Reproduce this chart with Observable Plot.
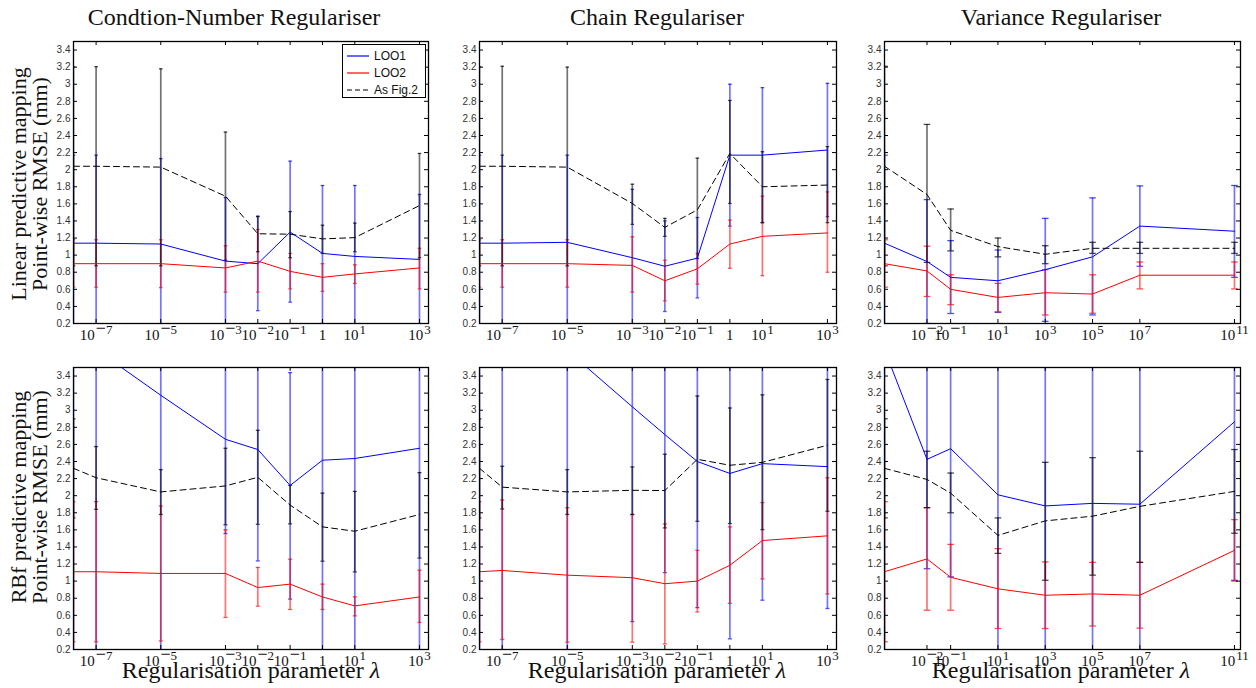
<!DOCTYPE html>
<html>
<head>
<meta charset="utf-8">
<script src="https://cdn.jsdelivr.net/npm/d3@7"></script>
<script src="https://cdn.jsdelivr.net/npm/@observablehq/plot@0.6"></script>
<style>
  html, body { margin: 0; padding: 0; background: #fff; }
  #wrap { position: relative; width: 1256px; height: 688px; overflow: hidden; background: #fff; }
  #wrap svg { position: absolute; max-width: none; }
  .serif { font-family: "Liberation Serif", "Times New Roman", serif; color: #111; position: absolute; white-space: nowrap; }
  .title { font-size: 24px; line-height: 24px; transform: translateX(-50%); }
  .xlab { font-size: 24px; line-height: 24px; transform: translateX(-50%); }
  .ylab { font-size: 22px; line-height: 21px; text-align: center; width: 320px; height: 42px; transform: translate(-50%, -50%) rotate(-90deg); }
  #legend { position: absolute; left: 342px; top: 44px; width: 82px; height: 52px; border: 1.3px solid #000; background: #fff;
            font-family: "Liberation Sans", Arial, sans-serif; font-size: 12px; color: #111; }
  #legend .row { position: absolute; left: 3px; height: 16px; display: flex; align-items: center; }
  #legend svg { position: static; margin-right: 4px; }
</style>
</head>
<body>
<div id="wrap"></div>
<script>
// ---------------- data ----------------
// λ values (first entry = un-regularised reference, drawn at the left axis limit)
const lambdaA = [2e-8, 1e-7, 1e-5, 1e-3, 1e-2, 1e-1, 1, 10, 1000];      // Condition-number & Chain
const lambdaB = [1.6e-4, 1e-2, 1e-1, 10, 1e3, 1e5, 1e7, 1e11];          // Variance
const domainA = [2e-8, 1.9e3];
const domainB = [1.6e-4, 1.8e11];

const xTicksA = [1e-7, 1e-5, 1e-3, 1e-2, 1e-1, 1, 10, 1000];
const xTickLabelsA = ["10^−7", "10^−5", "10^−3", "10^−2", "10^−1", "1", "10^1", "10^3"];
const xTicksB = [1e-2, 1e-1, 10, 1e3, 1e5, 1e7, 1e11];
const xTickLabelsB = ["10^−2", "10^−1", "10^1", "10^3", "10^5", "10^7", "10^11"];
const yTicks = [0.2, 0.4, 0.6, 0.8, 1, 1.2, 1.4, 1.6, 1.8, 2, 2.2, 2.4, 2.6, 2.8, 3, 3.2, 3.4];
const yTickLabels = ["0.2","0.4","0.6","0.8","1","1.2","1.4","1.6","1.8","2","2.2","2.4","2.6","2.8","3","3.2","3.4"];

const seriesNames = ["LOO1", "LOO2", "As Fig.2"];
const panelTitles = ["Condtion-Number Regulariser", "Chain Regulariser", "Variance Regulariser"];
const rowLabels = [["Linear predictive mapping", "Point-wise RMSE (mm)"], ["RBf predictive mapping", "Point-wise RMSE (mm)"]];

// --- Linear, condition-number
const linCN_LOO1    = [1.14, 1.14, 1.13, 0.93, 0.90, 1.27, 1.02, 0.985, 0.95];
const linCN_LOO1_lo = [0.11, 0.11, 0.13, 0.19, 0.35, 0.45, 0.20, 0.16, 0.19];
const linCN_LOO1_hi = [2.17, 2.17, 2.13, 1.675, 1.45, 2.10, 1.815, 1.815, 1.71];
const linCN_LOO2    = [0.90, 0.90, 0.90, 0.85, 0.93, 0.81, 0.74, 0.78, 0.85];
const linCN_LOO2_lo = [0.625, 0.625, 0.62, 0.567, 0.567, 0.605, 0.575, 0.668, 0.605];
const linCN_LOO2_hi = [1.18, 1.18, 1.18, 1.11, 1.30, 1.02, 0.90, 0.887, 1.08];
const linCN_Fig2    = [2.04, 2.04, 2.03, 1.69, 1.25, 1.245, 1.19, 1.205, 1.58];
const linCN_Fig2_lo = [0.875, 0.875, 0.875, 0.94, 1.04, 0.97, 1.02, 1.04, 0.97];
const linCN_Fig2_hi = [3.205, 3.205, 3.18, 2.44, 1.456, 1.51, 1.35, 1.375, 2.19];

// --- Linear, chain
const linCH_LOO1    = [1.14, 1.14, 1.15, 0.97, 0.87, 0.965, 2.17, 2.17, 2.23];
const linCH_LOO1_lo = [0.11, 0.11, 0.13, 0.17, 0.34, 0.50, 1.34, 1.38, 1.45];
const linCH_LOO1_hi = [2.17, 2.17, 2.17, 1.77, 1.40, 1.44, 3.00, 2.96, 3.01];
const linCH_LOO2    = [0.90, 0.90, 0.90, 0.88, 0.70, 0.84, 1.13, 1.22, 1.26];
const linCH_LOO2_lo = [0.625, 0.625, 0.625, 0.567, 0.465, 0.66, 0.845, 0.76, 0.80];
const linCH_LOO2_hi = [1.18, 1.18, 1.18, 1.215, 0.94, 1.02, 1.41, 1.69, 1.74];
const linCH_Fig2    = [2.04, 2.04, 2.03, 1.605, 1.325, 1.53, 2.19, 1.80, 1.82];
const linCH_Fig2_lo = [0.875, 0.875, 0.875, 1.36, 1.22, 0.96, 1.605, 1.38, 1.38];
const linCH_Fig2_hi = [3.205, 3.21, 3.20, 1.83, 1.43, 2.135, 2.81, 2.21, 2.27];

// --- Linear, variance
const linVA_LOO1    = [1.14, 0.925, 0.74, 0.70, 0.83, 0.98, 1.34, 1.28];
const linVA_LOO1_lo = [0.11, 0.20, 0.317, 0.33, 0.225, 0.30, 0.87, 0.74];
const linVA_LOO1_hi = [2.17, 1.65, 1.17, 1.06, 1.43, 1.67, 1.81, 1.815];
const linVA_LOO2    = [0.90, 0.815, 0.60, 0.505, 0.56, 0.545, 0.765, 0.765];
const linVA_LOO2_lo = [0.625, 0.516, 0.42, 0.337, 0.30, 0.32, 0.605, 0.605];
const linVA_LOO2_hi = [1.18, 1.105, 0.77, 0.67, 0.83, 0.77, 0.92, 0.92];
const linVA_Fig2    = [2.04, 1.71, 1.29, 1.10, 1.01, 1.08, 1.08, 1.08];
const linVA_Fig2_lo = [0.875, 0.915, 1.05, 0.98, 0.90, 1.02, 1.02, 1.02];
const linVA_Fig2_hi = [3.21, 2.53, 1.54, 1.20, 1.11, 1.15, 1.15, 1.15];

// --- RBF, condition-number
const rbfCN_LOO1    = [3.71, 3.71, 3.175, 2.66, 2.54, 2.12, 2.415, 2.435, 2.555];
const rbfCN_LOO1_lo = [0.10, 0.10, 0.10, 1.557, 1.237, 0.79, 0.10, 0.10, 0.10];
const rbfCN_LOO1_hi = [7.30, 7.30, 6.20, 3.76, 3.84, 3.44, 4.70, 4.80, 5.00];
const rbfCN_LOO2    = [1.11, 1.11, 1.09, 1.09, 0.925, 0.965, 0.815, 0.71, 0.815];
const rbfCN_LOO2_lo = [0.29, 0.29, 0.30, 0.575, 0.707, 0.668, 0.668, 0.594, 0.516];
const rbfCN_LOO2_hi = [1.93, 1.93, 1.88, 1.60, 1.16, 1.257, 0.965, 0.816, 1.128];
const rbfCN_Fig2    = [2.32, 2.21, 2.044, 2.114, 2.215, 1.89, 1.635, 1.584, 1.78];
const rbfCN_Fig2_lo = [1.74, 1.84, 1.78, 1.66, 1.665, 1.67, 1.233, 1.108, 1.27];
const rbfCN_Fig2_hi = [2.90, 2.575, 2.305, 2.555, 2.765, 2.12, 2.03, 2.05, 2.27];

// --- RBF, chain
const rbfCH_LOO1    = [3.71, 3.71, 3.70, 3.04, 2.715, 2.40, 2.26, 2.375, 2.34];
const rbfCH_LOO1_lo = [0.10, 0.10, 0.10, 0.527, 1.10, 0.69, 0.325, 0.777, 0.68];
const rbfCH_LOO1_hi = [7.30, 7.30, 7.30, 5.55, 4.33, 4.11, 4.19, 3.97, 4.00];
const rbfCH_LOO2    = [1.11, 1.125, 1.07, 1.04, 0.97, 1.00, 1.186, 1.475, 1.53];
const rbfCH_LOO2_lo = [0.29, 0.317, 0.286, 0.286, 0.266, 0.64, 0.74, 1.026, 0.85];
const rbfCH_LOO2_hi = [1.93, 1.95, 1.86, 1.78, 1.67, 1.36, 1.635, 1.92, 2.21];
const rbfCH_Fig2    = [2.32, 2.10, 2.044, 2.063, 2.06, 2.426, 2.356, 2.39, 2.59];
const rbfCH_Fig2_lo = [1.74, 1.845, 1.78, 1.78, 1.623, 1.70, 1.674, 1.603, 1.818];
const rbfCH_Fig2_hi = [2.90, 2.344, 2.305, 2.336, 2.485, 3.167, 3.026, 3.18, 3.36];

// --- RBF, variance
const rbfVA_LOO1    = [3.71, 2.425, 2.55, 2.01, 1.88, 1.91, 1.90, 2.865];
const rbfVA_LOO1_lo = [0.10, 1.145, 1.05, 0.10, 0.10, 0.10, 0.10, 1.01];
const rbfVA_LOO1_hi = [7.30, 3.70, 4.05, 3.90, 3.70, 3.80, 3.75, 4.72];
const rbfVA_LOO2    = [1.11, 1.26, 1.045, 0.91, 0.835, 0.85, 0.835, 1.36];
const rbfVA_LOO2_lo = [0.29, 0.66, 0.66, 0.445, 0.445, 0.475, 0.45, 1.00];
const rbfVA_LOO2_hi = [1.93, 1.86, 1.43, 1.38, 1.225, 1.22, 1.22, 1.72];
const rbfVA_Fig2    = [2.32, 2.19, 2.03, 1.535, 1.705, 1.76, 1.875, 2.05];
const rbfVA_Fig2_lo = [1.74, 1.86, 1.80, 1.325, 1.01, 1.07, 1.22, 1.56];
const rbfVA_Fig2_hi = [2.90, 2.52, 2.265, 1.74, 2.39, 2.445, 2.52, 2.54];

// ---------------- drawing ----------------
const colors = {"LOO1": "#0000ff", "LOO2": "#ff0000", "As Fig.2": "#000000"};
const dashes = {"LOO1": null, "LOO2": null, "As Fig.2": "6,4"};

const capSymbol = {
  draw(context, size) {
    const r = Math.sqrt(size / Math.PI);
    context.moveTo(-r, 0);
    context.lineTo(r, 0);
  }
};

function mk(mean, lo, hi) { return {mean, lo, hi}; }

const panels = [
  {lambda: lambdaA, domain: domainA, ticks: xTicksA, labels: xTickLabelsA, frame: [73, 41, 355, 282], cap: 1.8,
   data: [mk(linCN_LOO1, linCN_LOO1_lo, linCN_LOO1_hi), mk(linCN_LOO2, linCN_LOO2_lo, linCN_LOO2_hi), mk(linCN_Fig2, linCN_Fig2_lo, linCN_Fig2_hi)]},
  {lambda: lambdaA, domain: domainA, ticks: xTicksA, labels: xTickLabelsA, frame: [479, 41, 357, 282], cap: 1.8,
   data: [mk(linCH_LOO1, linCH_LOO1_lo, linCH_LOO1_hi), mk(linCH_LOO2, linCH_LOO2_lo, linCH_LOO2_hi), mk(linCH_Fig2, linCH_Fig2_lo, linCH_Fig2_hi)]},
  {lambda: lambdaB, domain: domainB, ticks: xTicksB, labels: xTickLabelsB, frame: [884, 41, 356, 282], cap: 3.3,
   data: [mk(linVA_LOO1, linVA_LOO1_lo, linVA_LOO1_hi), mk(linVA_LOO2, linVA_LOO2_lo, linVA_LOO2_hi), mk(linVA_Fig2, linVA_Fig2_lo, linVA_Fig2_hi)]},
  {lambda: lambdaA, domain: domainA, ticks: xTicksA, labels: xTickLabelsA, frame: [73, 367, 355, 282], cap: 2.0,
   data: [mk(rbfCN_LOO1, rbfCN_LOO1_lo, rbfCN_LOO1_hi), mk(rbfCN_LOO2, rbfCN_LOO2_lo, rbfCN_LOO2_hi), mk(rbfCN_Fig2, rbfCN_Fig2_lo, rbfCN_Fig2_hi)]},
  {lambda: lambdaA, domain: domainA, ticks: xTicksA, labels: xTickLabelsA, frame: [479, 367, 357, 282], cap: 2.0,
   data: [mk(rbfCH_LOO1, rbfCH_LOO1_lo, rbfCH_LOO1_hi), mk(rbfCH_LOO2, rbfCH_LOO2_lo, rbfCH_LOO2_hi), mk(rbfCH_Fig2, rbfCH_Fig2_lo, rbfCH_Fig2_hi)]},
  {lambda: lambdaB, domain: domainB, ticks: xTicksB, labels: xTickLabelsB, frame: [884, 367, 356, 282], cap: 3.3,
   data: [mk(rbfVA_LOO1, rbfVA_LOO1_lo, rbfVA_LOO1_hi), mk(rbfVA_LOO2, rbfVA_LOO2_lo, rbfVA_LOO2_hi), mk(rbfVA_Fig2, rbfVA_Fig2_lo, rbfVA_Fig2_hi)]}
];

const wrap = document.getElementById("wrap");
const NS = "http://www.w3.org/2000/svg";

function tspan(parent, text, size, attrs) {
  const t = document.createElementNS(NS, "tspan");
  t.textContent = text;
  t.setAttribute("font-size", size);
  t.style.fontSize = size + "px";
  for (const k in attrs || {}) t.setAttribute(k, attrs[k]);
  parent.appendChild(t);
  return t;
}

function drawPanel(p) {
  const [fx, fy, W, H] = p.frame;
  const mL = 34, mR = 8, mT = 6, mB = 26;
  const rowsOf = s => p.lambda.map((l, i) => ({lambda: l, mean: s.mean[i], lo: s.lo[i], hi: s.hi[i]}));
  const marks = [];
  p.data.forEach((s, k) => {
    const name = seriesNames[k], c = colors[name], r = rowsOf(s);
    marks.push(Plot.ruleX(r, {x: "lambda", y1: "lo", y2: "hi", stroke: c, strokeOpacity: 0.55, strokeWidth: 1.7, clip: true}));
    marks.push(Plot.dot(r, {x: "lambda", y: "lo", symbol: capSymbol, r: p.cap, fill: "none", stroke: c, strokeOpacity: 0.7, strokeWidth: 1.3, clip: true}));
    marks.push(Plot.dot(r, {x: "lambda", y: "hi", symbol: capSymbol, r: p.cap, fill: "none", stroke: c, strokeOpacity: 0.7, strokeWidth: 1.3, clip: true}));
  });
  p.data.forEach((s, k) => {
    const name = seriesNames[k];
    marks.push(Plot.line(rowsOf(s), {x: "lambda", y: "mean", stroke: colors[name], strokeWidth: 1, strokeDasharray: dashes[name], clip: true}));
  });
  // inward MATLAB-style ticks on all four sides
  marks.push(Plot.tickX(p.ticks, {x: d => d, insetTop: H - 4, stroke: "#000", strokeWidth: 1}));
  marks.push(Plot.tickX(p.ticks, {x: d => d, insetBottom: H - 4, stroke: "#000", strokeWidth: 1}));
  marks.push(Plot.tickY(yTicks, {y: d => d, insetRight: W - 4, stroke: "#000", strokeWidth: 1}));
  marks.push(Plot.tickY(yTicks, {y: d => d, insetLeft: W - 4, stroke: "#000", strokeWidth: 1}));
  marks.push(Plot.frame({stroke: "#000", strokeWidth: 1.3}));

  const svg = Plot.plot({
    width: mL + W + mR, height: mT + H + mB,
    marginLeft: mL, marginRight: mR, marginTop: mT, marginBottom: mB,
    x: {type: "log", domain: p.domain, ticks: p.ticks, tickFormat: d => p.labels[p.ticks.indexOf(d)], tickSize: 0, tickPadding: 6, label: null},
    y: {domain: [0.2, 3.5], ticks: yTicks, tickFormat: d => yTickLabels[yTicks.indexOf(d)], tickSize: 0, tickPadding: 3, label: null},
    style: {background: "transparent", overflow: "visible"},
    marks
  });
  svg.style.left = (fx - mL) + "px";
  svg.style.top = (fy - mT) + "px";
  svg.style.overflow = "visible";

  // x tick labels: serif with raised exponents (long TeX-like minus)
  svg.querySelectorAll('[aria-label="x-axis"] text, [aria-label="x-axis tick label"] text').forEach(t => {
    const s = t.textContent;
    t.setAttribute("font-family", "Liberation Serif, Times New Roman, serif");
    t.setAttribute("font-size", "15");
    t.setAttribute("fill", "#111");
    t.style.fontFamily = "'Liberation Serif', 'Times New Roman', serif";
    t.style.fontSize = "15px";
    if (s.includes("^")) {
      const [b, e] = s.split("^");
      t.textContent = "";
      tspan(t, b, 15);
      if (e.startsWith("−")) {
        tspan(t, "−", 18, {dy: "-6", dx: "1"});
        tspan(t, e.slice(1), 13);
      } else {
        tspan(t, e, 13, {dy: "-6", dx: "1"});
      }
    }
  });
  svg.querySelectorAll('[aria-label="y-axis"] text, [aria-label="y-axis tick label"] text').forEach(t => {
    t.setAttribute("font-family", "Liberation Sans, Arial, sans-serif");
    t.setAttribute("font-size", "10");
    t.setAttribute("fill", "#333");
    t.style.fontFamily = "'Liberation Sans', Arial, sans-serif";
    t.style.fontSize = "10px";
  });
  wrap.appendChild(svg);
}

panels.forEach(drawPanel);

// ---------------- text ----------------
function addDiv(cls, html, css) {
  const d = document.createElement("div");
  d.className = cls;
  d.innerHTML = html;
  Object.assign(d.style, css);
  wrap.appendChild(d);
  return d;
}
const titleX = [234, 657, 1061];
panelTitles.forEach((t, i) => addDiv("serif title", t, {left: titleX[i] + "px", top: "5px"}));
const xlabX = [251, 657, 1061];
xlabX.forEach(x => addDiv("serif xlab", "Regularisation parameter <i>λ</i>", {left: x + "px", top: "658px"}));
const ylabY = [184, 497];
rowLabels.forEach((lines, i) => addDiv("serif ylab", lines[0] + "<br>" + lines[1], {left: "29px", top: ylabY[i] + "px"}));

// legend
const legend = document.createElement("div");
legend.id = "legend";
seriesNames.forEach((n, i) => {
  const row = document.createElement("div");
  row.className = "row";
  row.style.top = (3 + i * 17) + "px";
  const dash = dashes[n] ? `stroke-dasharray="5,3"` : "";
  row.innerHTML = `<svg width="24" height="10"><line x1="1" y1="5" x2="23" y2="5" stroke="${colors[n]}" stroke-width="1.2" ${dash}/></svg><span>${n}</span>`;
  legend.appendChild(row);
});
wrap.appendChild(legend);
</script>
</body>
</html>
